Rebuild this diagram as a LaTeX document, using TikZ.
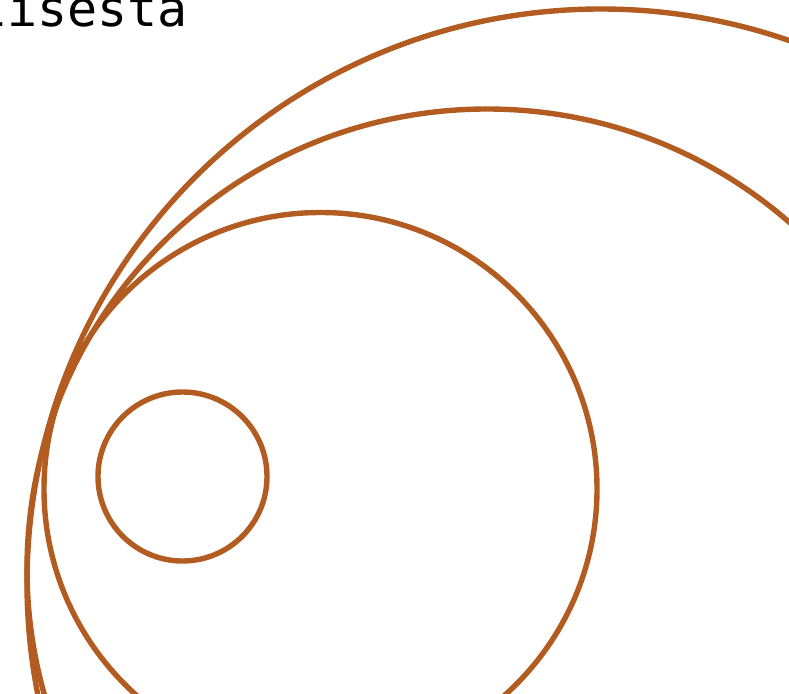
\documentclass[tikz,border=0pt]{standalone}
\usepackage{fontspec}
\newfontfamily\monofont{DejaVu Sans Mono}
\definecolor{ring}{RGB}{179,92,34}
\tikzset{ringline/.style={draw=ring, line width=5.4pt}}
\begin{document}
\begin{tikzpicture}[x=1pt,y=-1pt]
\useasboundingbox (0,0) rectangle (789,693);
\node[anchor=base east, inner sep=0pt, font=\monofont\fontsize{50}{50}\selectfont] (title) at (188,26.7) {lisesta};
\draw[ringline] (182.5,476.5) circle (84.5);
\draw[ringline] (320.5,489) circle (276.5);
\draw[ringline] (487,569) circle (460);
\draw[ringline] (601,583) circle (574);
\end{tikzpicture}
\end{document}
